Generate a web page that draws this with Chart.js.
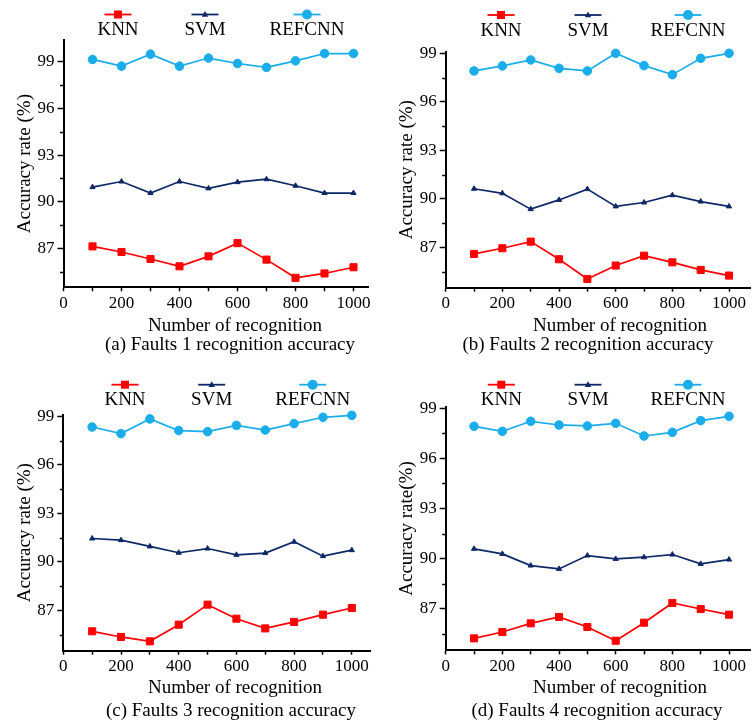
<!DOCTYPE html>
<html>
<head>
<meta charset="utf-8">
<script src="https://cdn.jsdelivr.net/npm/chart.js@4/dist/chart.umd.min.js"></script>
<style>
  body { margin: 0; background: #fff; }
  #wrap { position: relative; width: 756px; height: 726px; overflow: hidden; }
  canvas { position: absolute; }
  .lbl {
    position: absolute;
    transform: translate(-50%, -50%);
    white-space: nowrap;
    font: 19px 'Liberation Serif', 'Times New Roman', serif;
    color: #000;
  }
</style>
</head>
<body>
<div id="wrap">
  <canvas id="chart-a" width="378" height="363" style="left:0;top:0"></canvas>
  <canvas id="chart-b" width="378" height="363" style="left:378px;top:0"></canvas>
  <canvas id="chart-c" width="378" height="363" style="left:0;top:363px"></canvas>
  <canvas id="chart-d" width="378" height="363" style="left:378px;top:363px"></canvas>

  <div class="lbl" style="left:235px;top:325px">Number of recognition</div>
  <div class="lbl" style="left:230px;top:344px">(a) Faults 1 recognition accuracy</div>
  <div class="lbl" style="left:620px;top:325px">Number of recognition</div>
  <div class="lbl" style="left:588px;top:344px">(b) Faults 2 recognition accuracy</div>
  <div class="lbl" style="left:235px;top:687px">Number of recognition</div>
  <div class="lbl" style="left:231px;top:710px">(c) Faults 3 recognition accuracy</div>
  <div class="lbl" style="left:620px;top:687px">Number of recognition</div>
  <div class="lbl" style="left:597px;top:710px">(d) Faults 4 recognition accuracy</div>
</div>

<script>
// x positions (number of recognition) shared by every panel
const recognitionCounts = [100, 200, 300, 400, 500, 600, 700, 800, 900, 1000];
const xTickValues = [0, 100, 200, 300, 400, 500, 600, 700, 800, 900, 1000];
const yTickValues = [87, 90, 93, 96, 99];
const yMinorTicks = [85.5, 88.5, 91.5, 94.5, 97.5, 100.5];
const seriesNames = ['KNN', 'SVM', 'REFCNN'];

// (a) Faults 1
const knnA = [87.13, 86.77, 86.32, 85.85, 86.49, 87.34, 86.28, 85.11, 85.39, 85.79];
const svmA = [90.94, 91.30, 90.56, 91.30, 90.86, 91.26, 91.45, 91.03, 90.56, 90.56];
const refA = [99.15, 98.72, 99.49, 98.72, 99.24, 98.89, 98.64, 99.06, 99.53, 99.53];

// (b) Faults 2
const knnB = [86.59, 86.94, 87.35, 86.26, 85.04, 85.87, 86.48, 86.07, 85.60, 85.25];
const svmB = [90.62, 90.34, 89.36, 89.93, 90.60, 89.53, 89.77, 90.22, 89.83, 89.53];
const refB = [97.91, 98.22, 98.59, 98.07, 97.91, 99.00, 98.24, 97.68, 98.69, 99.00];

// (c) Faults 3
const knnC = [85.70, 85.35, 85.08, 86.11, 87.35, 86.48, 85.88, 86.28, 86.73, 87.14];
const svmC = [91.44, 91.34, 90.95, 90.56, 90.82, 90.43, 90.54, 91.24, 90.35, 90.72];
const refC = [98.34, 97.93, 98.84, 98.12, 98.05, 98.44, 98.15, 98.55, 98.94, 99.06];

// (d) Faults 4
const knnD = [85.22, 85.60, 86.12, 86.50, 85.90, 85.08, 86.16, 87.34, 86.98, 86.64];
const svmD = [90.58, 90.28, 89.58, 89.38, 90.18, 89.98, 90.08, 90.24, 89.68, 89.94];
const refD = [97.92, 97.62, 98.22, 98.00, 97.94, 98.10, 97.34, 97.56, 98.26, 98.52];

const RED = '#ff0000';
const NAVY = '#0e2866';
const SKY = '#1badea';
const SERIF = "'Liberation Serif', 'Times New Roman', serif";

// per-panel frame, in canvas pixels
const panels = [
  { id: 'chart-a', data: [knnA, svmA, refA], yTitle: 'Accuracy rate (%)',
    axisX: 63.5, right: 368, top: 40, bottom: 287.3, xMax: 1050, yMax: 100.4,
    legendX: [118, 205, 307], markerY: 14.5, textY: 30 },
  { id: 'chart-b', data: [knnB, svmB, refB], yTitle: 'Accuracy rate (%)',
    axisX: 67.7, right: 377, top: 51.7, bottom: 287.7, xMax: 1074, yMax: 99.1,
    legendX: [123, 210, 310], markerY: 15, textY: 31.5 },
  { id: 'chart-c', data: [knnC, svmC, refC], yTitle: 'Accuracy rate (%)',
    axisX: 63.3, right: 370, top: 51.7, bottom: 287.7, xMax: 1063, yMax: 99.1,
    legendX: [125, 211.7, 312.7], markerY: 21.7, textY: 36.7 },
  { id: 'chart-d', data: [knnD, svmD, refD], yTitle: 'Accuracy rate(%)',
    axisX: 67.7, right: 377, top: 43.6, bottom: 287.4, xMax: 1074, yMax: 99.1,
    legendX: [123.3, 210, 310], markerY: 21.7, textY: 36.7 },
];

function drawMarker(ctx, style, x, y, color) {
  ctx.fillStyle = color;
  ctx.beginPath();
  if (style === 'rect') {
    ctx.rect(x - 4, y - 4, 8, 8);
  } else if (style === 'triangle') {
    ctx.moveTo(x, y - 3.4);
    ctx.lineTo(x + 3.2, y + 2.2);
    ctx.lineTo(x - 3.2, y + 2.2);
    ctx.closePath();
  } else {
    ctx.arc(x, y, 5, 0, Math.PI * 2);
  }
  ctx.fill();
}

// legend with marker over a short line and the name underneath
const topLegend = {
  id: 'topLegend',
  afterDraw(chart, args, opts) {
    const ctx = chart.ctx;
    ctx.save();
    chart.data.datasets.forEach((ds, i) => {
      const cx = opts.xs[i];
      ctx.strokeStyle = ds.borderColor;
      ctx.lineWidth = 1.8;
      ctx.beginPath();
      ctx.moveTo(cx - 13.5, opts.markerY);
      ctx.lineTo(cx + 13.5, opts.markerY);
      ctx.stroke();
      drawMarker(ctx, ds.pointStyle, cx, opts.markerY, ds.borderColor);
      ctx.fillStyle = '#000';
      ctx.font = '19px ' + SERIF;
      ctx.textAlign = 'center';
      ctx.textBaseline = 'middle';
      ctx.fillText(ds.label, cx, opts.textY);
    });
    ctx.restore();
  },
};

// short minor ticks on the y axis
const minorTicks = {
  id: 'minorTicks',
  afterDraw(chart) {
    const y = chart.scales.y;
    const ctx = chart.ctx;
    const x0 = chart.chartArea.left;
    ctx.save();
    ctx.strokeStyle = '#000';
    ctx.lineWidth = 1.5;
    yMinorTicks.forEach((v) => {
      if (v < y.min || v > y.max) return;
      const py = Math.round(y.getPixelForValue(v)) + 0.5;
      ctx.beginPath();
      ctx.moveTo(x0 - 3.5, py);
      ctx.lineTo(x0, py);
      ctx.stroke();
    });
    ctx.restore();
  },
};

function makeSeries(name, values, color, style, radius) {
  return {
    label: name,
    data: recognitionCounts.map((x, i) => ({ x, y: values[i] })),
    borderColor: color,
    backgroundColor: color,
    borderWidth: 1.7,
    pointStyle: style,
    pointRadius: radius,
    pointBorderWidth: 1,
    tension: 0,
    clip: false,
  };
}

function noPad(scale) {
  scale.paddingTop = 0;
  scale.paddingBottom = 0;
  scale.paddingLeft = 0;
  scale.paddingRight = 0;
}

function makePanel(p) {
  const ctx = document.getElementById(p.id);
  return new Chart(ctx, {
    type: 'line',
    data: {
      datasets: [
        makeSeries(seriesNames[0], p.data[0], RED, 'rect', 5),
        makeSeries(seriesNames[1], p.data[1], NAVY, 'triangle', 3),
        makeSeries(seriesNames[2], p.data[2], SKY, 'circle', 4.3),
      ],
    },
    options: {
      responsive: false,
      animation: false,
      layout: {
        padding: { left: 0, top: p.top, right: 378 - p.right, bottom: 363 - p.bottom - 30 },
      },
      plugins: {
        legend: { display: false },
        tooltip: { enabled: false },
        topLegend: { xs: p.legendX, markerY: p.markerY, textY: p.textY },
      },
      scales: {
        x: {
          type: 'linear',
          min: 0,
          max: p.xMax,
          afterBuildTicks: (s) => { s.ticks = xTickValues.map((v) => ({ value: v })); },
          afterFit: (s) => { s.height = 30; noPad(s); },
          ticks: {
            autoSkip: false,
            maxRotation: 0,
            padding: 2,
            color: '#000',
            font: { family: SERIF, size: 17 },
            callback: (v) => (v % 200 === 0 ? String(v) : ''),
          },
          grid: { drawOnChartArea: false, tickLength: 4, tickColor: '#000', tickWidth: 1.5 },
          border: { color: '#000', width: 2 },
        },
        y: {
          min: 84.5,
          max: p.yMax,
          afterBuildTicks: (s) => { s.ticks = yTickValues.map((v) => ({ value: v })); },
          afterFit: (s) => { s.width = p.axisX; noPad(s); },
          ticks: {
            padding: 3,
            color: '#000',
            font: { family: SERIF, size: 17 },
          },
          grid: { drawOnChartArea: false, tickLength: 6, tickColor: '#000', tickWidth: 1.5 },
          border: { color: '#000', width: 2 },
          title: {
            display: true,
            text: p.yTitle,
            color: '#000',
            font: { family: SERIF, size: 19 },
            padding: { top: p.axisX - 38.5 - 11.4, bottom: 0 },
          },
        },
      },
    },
    plugins: [topLegend, minorTicks],
  });
}

panels.forEach(makePanel);
</script>
</body>
</html>
